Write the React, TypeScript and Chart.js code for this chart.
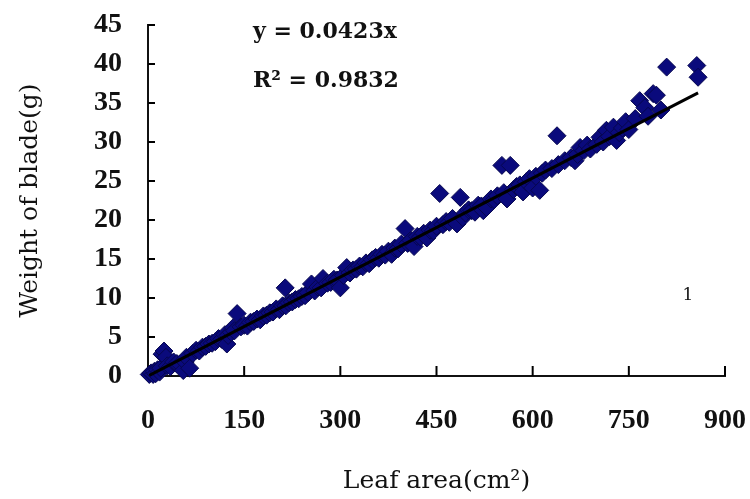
import React, { useEffect, useRef } from "react";
import { Chart, registerables } from "chart.js";

Chart.register(...registerables);

// Leaf area (cm²) of each sampled leaf
const leafArea = [
  2, 5, 8, 10, 12, 15, 18, 20, 22, 25,
  28, 30, 35, 40, 45, 50, 55, 58, 60, 65,
  70, 75, 80, 85, 90, 95, 100, 105, 110, 115,
  120, 123, 125, 130, 133, 135, 139, 145, 150, 155,
  160, 165, 170, 175, 180, 185, 190, 195, 200, 205,
  210, 214, 215, 220, 225, 230, 235, 240, 245, 250,
  255, 260, 265, 270, 273, 280, 285, 290, 295, 300,
  305, 310, 315, 320, 325, 330, 335, 340, 345, 350,
  355, 360, 365, 370, 375, 380, 385, 390, 395, 401,
  405, 410, 415, 420, 425, 430, 435, 440, 445, 450,
  455, 460, 465, 470, 475, 482, 487, 491, 495, 500,
  505, 510, 515, 520, 523, 528, 535, 540, 545, 552,
  555, 560, 565, 570, 575, 580, 585, 590, 595, 600,
  605, 611, 615, 620, 630, 638, 640, 650, 660, 666,
  670, 674, 680, 685, 690, 700, 705, 710, 715, 720,
  726, 731, 735, 740, 745, 750, 760, 767, 775, 780,
  788, 793, 800, 809, 856, 858,
];

// Weight of blade (g) of each sampled leaf
const bladeWeight = [
  0.2, 0.4, 0.2, 0.6, 0.3, 0.8, 0.5, 1.0, 2.8, 3.2,
  2.4, 1.3, 1.2, 1.8, 1.6, 1.5, 0.7, 1.8, 2.4, 1.0,
  2.9, 3.3, 3.2, 3.7, 3.8, 4.1, 4.2, 4.4, 4.8, 4.7,
  5.3, 4.1, 5.2, 5.6, 6.2, 5.8, 8.0, 6.3, 6.5, 6.4,
  6.9, 7.0, 7.3, 7.2, 7.7, 7.8, 8.1, 8.2, 8.6, 8.5,
  9.0, 11.3, 9.0, 9.4, 9.5, 9.8, 9.9, 10.2, 10.3, 10.7,
  11.8, 10.9, 11.4, 11.3, 12.5, 11.9, 12.0, 12.4, 12.3, 11.3,
  12.9, 13.9, 13.2, 13.6, 13.7, 14.1, 14.0, 14.5, 14.4, 14.9,
  15.2, 15.1, 15.6, 15.5, 16.0, 15.6, 16.4, 16.3, 16.9, 18.9,
  17.0, 17.4, 16.6, 17.9, 17.8, 18.3, 17.7, 18.7, 18.6, 19.2,
  23.4, 19.4, 19.8, 19.7, 20.2, 19.5, 22.9, 20.3, 20.9, 21.3,
  21.2, 21.0, 21.9, 21.8, 21.2, 21.6, 22.7, 22.6, 23.1, 27.0,
  23.5, 22.7, 27.0, 23.9, 24.3, 24.5, 23.6, 24.9, 25.3, 24.1,
  25.6, 23.8, 26.0, 26.4, 26.6, 30.8, 27.1, 27.6, 28.0, 27.6,
  28.4, 29.3, 28.9, 29.6, 29.1, 29.7, 30.6, 30.0, 31.5, 30.7,
  31.9, 30.2, 31.2, 31.8, 32.6, 31.6, 33.0, 35.3, 34.4, 33.3,
  36.2, 36.0, 34.1, 39.6, 39.8, 38.3,
];

const trendSlope = 0.0423;
const equationText = "y = 0.0423x";
const rSquaredText = "R\u00B2 = 0.9832";
const panelText = "1";
const xTickValues = [0, 150, 300, 450, 600, 750, 900];
const yTickValues = [0, 5, 10, 15, 20, 25, 30, 35, 40, 45];
const xTitle = "Leaf area(cm\u00B2)";
const yTitle = "Weight of blade(g)";

export default function App() {
  const canvasRef = useRef<HTMLCanvasElement | null>(null);

  useEffect(() => {
    const canvas = canvasRef.current;
    if (!canvas) return;

    const points = leafArea.map((x, i) => ({ x, y: bladeWeight[i] }));
    const xMin = Math.min(...leafArea);
    const xMax = Math.max(...leafArea);
    const trend = [
      { x: xMin, y: trendSlope * xMin },
      { x: xMax, y: trendSlope * xMax },
    ];

    const decor = {
      id: "decor",
      beforeDatasetsDraw(chart: any) {
        const { ctx, scales } = chart;
        const xs = scales.x;
        const ys = scales.y;
        const x0 = xs.getPixelForValue(0);
        const y0 = ys.getPixelForValue(0);
        ctx.save();
        ctx.strokeStyle = "#000";
        ctx.lineWidth = 2;
        yTickValues.forEach((v) => {
          const py = ys.getPixelForValue(v);
          ctx.beginPath();
          ctx.moveTo(x0, py);
          ctx.lineTo(x0 + 7, py);
          ctx.stroke();
        });
        xTickValues.forEach((v) => {
          const px = xs.getPixelForValue(v);
          ctx.beginPath();
          ctx.moveTo(px, y0);
          ctx.lineTo(px, y0 - 10);
          ctx.stroke();
        });
        ctx.restore();
      },
      afterDraw(chart: any) {
        const { ctx } = chart;
        ctx.save();
        ctx.fillStyle = "#111";
        ctx.textAlign = "left";
        ctx.textBaseline = "alphabetic";
        ctx.font = 'bold 22px "DejaVu Serif"';
        ctx.fillText(equationText, 253, 38);
        ctx.fillText(rSquaredText, 253, 87);
        ctx.font = '17px "DejaVu Serif"';
        ctx.textAlign = "center";
        ctx.fillText(panelText, 688, 300);
        ctx.restore();
      },
    };

    const tickFont = { family: '"Liberation Serif", serif', size: 28, weight: "bold" as const };
    const titleFont = { family: '"DejaVu Serif", serif', size: 25, weight: "normal" as const };

    const chart = new Chart(canvas, {
      type: "scatter",
      data: {
        datasets: [
          {
            label: "trend",
            data: trend,
            showLine: true,
            borderColor: "#000",
            borderWidth: 3,
            pointRadius: 0,
            order: 0,
            clip: false,
          } as any,
          {
            label: "samples",
            data: points,
            pointStyle: "rectRot",
            pointRadius: 9,
            backgroundColor: "#0a0a7c",
            borderColor: "#06064f",
            borderWidth: 1,
            order: 1,
            clip: false,
          } as any,
        ],
      },
      options: {
        animation: false,
        responsive: false,
        maintainAspectRatio: false,
        layout: { padding: { top: 25, right: 25, left: 0, bottom: 0 } },
        plugins: {
          legend: { display: false },
          tooltip: { enabled: false },
        },
        scales: {
          x: {
            type: "linear",
            min: 0,
            max: 900,
            afterFit: (s: any) => {
              s.height = 123;
              s.paddingLeft = 0;
              s.paddingRight = 0;
              s.paddingTop = 0;
              s.paddingBottom = 0;
            },
            ticks: {
              stepSize: 150,
              color: "#111",
              font: tickFont,
              padding: 28,
              maxRotation: 0,
              autoSkip: false,
            },
            grid: { display: true, drawOnChartArea: false, drawTicks: false },
            border: { display: true, color: "#111", width: 2 },
            title: {
              display: true,
              text: xTitle,
              color: "#111",
              font: titleFont,
              padding: { top: 3, bottom: 3 },
            },
          },
          y: {
            type: "linear",
            min: 0,
            max: 45,
            afterFit: (s: any) => {
              s.width = 148;
              s.paddingLeft = 0;
              s.paddingRight = 0;
              s.paddingTop = 0;
              s.paddingBottom = 0;
            },
            ticks: {
              stepSize: 5,
              color: "#111",
              font: tickFont,
              padding: 26,
              autoSkip: false,
            },
            grid: { display: true, drawOnChartArea: false, drawTicks: false },
            border: { display: true, color: "#111", width: 2 },
            title: {
              display: true,
              text: yTitle,
              color: "#111",
              font: titleFont,
              padding: { top: 15, bottom: 15 },
            },
          },
        },
      },
      plugins: [decor],
    });

    return () => {
      chart.destroy();
    };
  }, []);

  return (
    <div style={{ position: "absolute", left: 0, top: 0, width: 750, height: 499, background: "#fff" }}>
      <canvas ref={canvasRef} width={750} height={499} style={{ display: "block" }} />
    </div>
  );
}
